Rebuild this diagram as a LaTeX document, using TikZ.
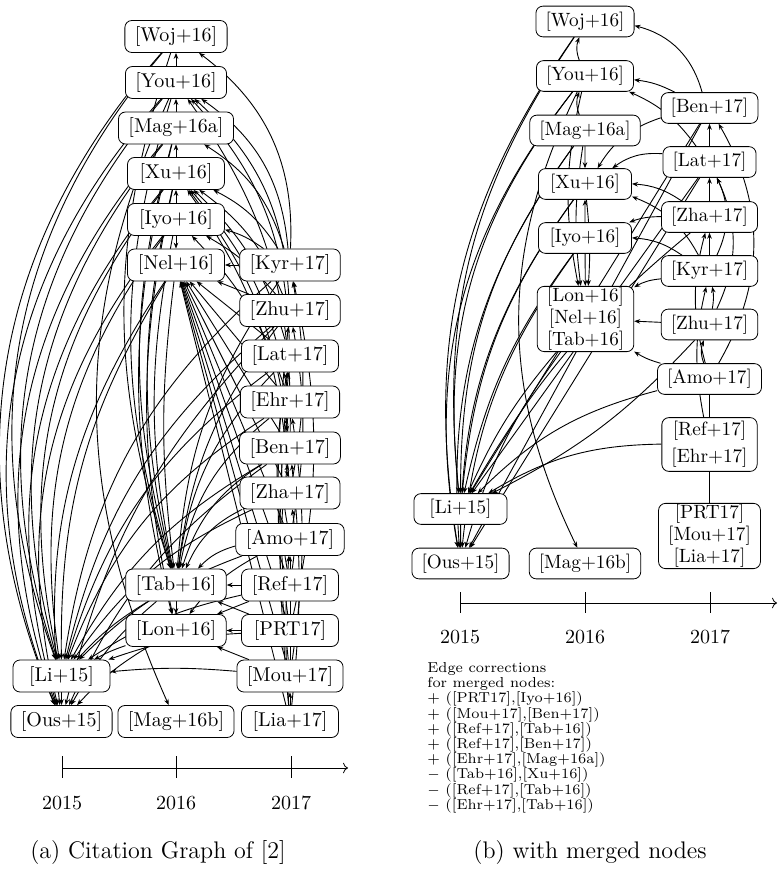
\documentclass[tikz,border=0pt]{standalone}
\usetikzlibrary{arrows.meta,backgrounds}

\tikzset{
  paper/.style={draw, rounded corners=3.5pt, fill=white, inner xsep=5pt, inner ysep=3pt, minimum width=48.5pt},
  mpaper/.style={paper, scale=0.96},
  mgroup/.style={mpaper, align=center, inner ysep=0.5pt, font=\fontsize{10}{11.5}\selectfont},
  cit/.style={-{Stealth[length=3pt,width=2.3pt]}, line width=0.45pt},
  link/.style={line width=0.45pt},
}

\begin{document}
\begin{tikzpicture}[x=0.5pt,y=-0.5pt]
  \useasboundingbox (0,0) rectangle (778,870);

  % (a) citation graph
  \node[paper] (woj)  at (176,36.5)  {[Woj+16]};
  \node[paper] (you)  at (176,82.5)  {[You+16]};
  \node[paper] (maga) at (176,128)   {[Mag+16a]};
  \node[paper] (xu)   at (176,173.5) {[Xu+16]};
  \node[paper] (iyo)  at (176,219.5) {[Iyo+16]};
  \node[paper] (nel)  at (176,265)   {[Nel+16]};
  \node[paper] (tab)  at (176,585)   {[Tab+16]};
  \node[paper] (lon)  at (176,630.5) {[Lon+16]};
  \node[paper] (magb) at (176,721.5) {[Mag+16b]};
  \node[paper] (li)   at (61.5,676)  {[Li+15]};
  \node[paper] (ous)  at (61.5,721.5) {[Ous+15]};
  \node[paper] (kyr)  at (290,265)   {[Kyr+17]};
  \node[paper] (zhu)  at (290,310.5) {[Zhu+17]};
  \node[paper] (lat)  at (290,356)   {[Lat+17]};
  \node[paper] (ehr)  at (290,402)   {[Ehr+17]};
  \node[paper] (ben)  at (290,448)   {[Ben+17]};
  \node[paper] (zha)  at (290,493)   {[Zha+17]};
  \node[paper] (amo)  at (290,539.5) {[Amo+17]};
  \node[paper] (ref)  at (290,585)   {[Ref+17]};
  \node[paper] (prt)  at (290,630.5) {[PRT17]};
  \node[paper] (mou)  at (290,676)   {[Mou+17]};
  \node[paper] (lia)  at (290,721.5) {[Lia+17]};

  \begin{pgfonlayer}{background}
  \draw[cit] (woj) edge[bend right=32] (ous) edge[bend right=30] (li) edge[bend right=18] (tab);
  \draw[cit] (you) edge (woj) edge[bend right=32] (ous) edge[bend right=29] (li) edge[bend right=17] (tab) edge[bend right=24] (magb);
  \draw[cit] (maga) edge (you) edge[bend right=30] (ous) edge[bend right=27] (li) edge[bend right=15] (tab) edge[bend right=14] (lon);
  \draw[cit] (xu) edge (maga) edge[bend right=28] (ous) edge[bend right=25] (li) edge[bend right=13] (tab) edge[bend right=12] (lon);
  \draw[cit] (iyo) edge (xu) edge (nel) edge[bend right=26] (ous) edge[bend right=22] (li) edge[bend right=11] (tab);
  \draw[cit] (nel) edge[bend right=20] (ous) edge[bend right=16] (li) edge[bend right=7] (tab);
  \draw[cit] (tab) edge (lon) edge[bend right=10] (ous) edge[bend right=8] (li);
  \draw[cit] (lon) edge[bend right=8] (ous) edge[bend right=5] (li);
  \draw[cit] (li) edge (ous);
  \draw[cit] (kyr) edge (nel) edge[bend right=10] (iyo) edge[bend right=15] (xu) edge[bend right=20] (maga) edge[bend right=25] (you) edge[bend right=28] (woj) edge[bend right=15] (tab) edge[bend right=20] (li);
  \draw[cit] (zhu) edge (nel) edge[bend right=10] (iyo) edge[bend right=15] (xu) edge[bend right=22] (you) edge[bend right=15] (tab) edge[bend right=18] (li) edge[bend right=15] (ous);
  \draw[cit] (lat) edge (nel) edge[bend right=15] (xu) edge[bend right=20] (you) edge[bend right=18] (tab) edge[bend right=18] (li) edge[bend right=8] (ben);
  \draw[cit] (ehr) edge (nel) edge[bend right=12] (iyo) edge[bend right=15] (xu) edge[bend right=20] (tab) edge[bend right=18] (li) edge[bend right=8] (zha);
  \draw[cit] (ben) edge (nel) edge[bend right=18] (you) edge[bend right=15] (xu) edge[bend right=20] (tab) edge[bend right=15] (li) edge[bend right=15] (ous);
  \draw[cit] (zha) edge (nel) edge[bend right=15] (xu) edge[bend right=20] (tab) edge[bend right=15] (li) edge[bend right=10] (kyr);
  \draw[cit] (amo) edge (nel) edge[bend right=15] (tab) edge[bend right=12] (lon) edge[bend right=12] (li) edge[bend left=10] (ehr) edge[bend right=10] (zhu);
  \draw[cit] (ref) edge (nel) edge (tab) edge (lon) edge[bend right=10] (li) edge[bend left=10] (lat) edge[bend right=8] (zha);
  \draw[cit] (prt) edge (nel) edge (tab) edge (lon) edge[bend right=8] (li) edge[bend right=12] (kyr) edge[bend left=8] (ben);
  \draw[cit] (mou) edge (nel) edge (lon) edge[bend right=5] (li) edge[bend left=6] (zhu) edge[bend right=8] (ehr) edge (amo);
  \draw[cit] (lia) edge (nel) edge[bend left=5] (lat) edge[bend right=6] (ben) edge (mou) edge[bend left=4] (amo);
  \end{pgfonlayer}

  \coordinate (ta15) at (62,768);
  \coordinate (ta16) at (176,768);
  \coordinate (ta17) at (291,768);
  \coordinate (taend) at (348,768);
  \draw[->] (ta15) -- (taend);
  \draw (ta15) ++(0,-12) -- ++(0,22);
  \draw (ta16) ++(0,-12) -- ++(0,22);
  \draw (ta17) ++(0,-12) -- ++(0,22);
  \node (ya15) at (62,803) {2015};
  \node (ya16) at (176,803) {2016};
  \node (ya17) at (291,803) {2017};
  \node (capa) at (158,853) {\large (a) Citation Graph of [2]};

  % (b) with merged nodes
  \node[mpaper] (mwoj)  at (585,21.5)  {[Woj+16]};
  \node[mpaper] (myou)  at (585,76)    {[You+16]};
  \node[mpaper] (mmaga) at (585,130.5) {[Mag+16a]};
  \node[mpaper] (mxu)   at (585,184)   {[Xu+16]};
  \node[mpaper] (miyo)  at (585,238)   {[Iyo+16]};
  \node[mgroup] (mlnt)  at (585.5,319) {[Lon+16]\\{}[Nel+16]\\{}[Tab+16]};
  \node[mpaper] (mli)   at (460.5,509) {[Li+15]};
  \node[mpaper] (mous)  at (460.5,563.5) {[Ous+15]};
  \node[mpaper] (mmagb) at (585,563.5) {[Mag+16b]};
  \node[mpaper] (mben)  at (709.5,108) {[Ben+17]};
  \node[mpaper] (mlat)  at (709.5,162) {[Lat+17]};
  \node[mpaper] (mzha)  at (709.5,217) {[Zha+17]};
  \node[mpaper] (mkyr)  at (709.5,271) {[Kyr+17]};
  \node[mpaper] (mzhu)  at (709.5,324.5) {[Zhu+17]};
  \node[mpaper] (mamo)  at (709.5,379) {[Amo+17]};
  \node[mpaper, align=center, inner ysep=2pt] (mre) at (709.5,444.5) {[Ref+17]\\[2pt]{}[Ehr+17]};
  \node[mgroup] (mpml)  at (709.5,536) {[PRT17]\\{}[Mou+17]\\{}[Lia+17]};

  \begin{pgfonlayer}{background}
  \draw[cit] (mwoj) edge[bend right=20] (mli) edge[bend right=22] (mous);
  \draw[cit] (myou) edge[bend left=20] (mwoj) edge[bend right=22] (mli) edge[bend right=24] (mous) edge[bend right=12] (mlnt) edge[bend right=26] (mmagb);
  \draw[cit] (mmaga) edge[bend left=20] (myou) edge (mxu) edge[bend right=18] (mli) edge[bend right=20] (mous) edge[bend right=8] (mlnt);
  \draw[cit] (mxu) edge[bend right=15] (mli) edge[bend right=18] (mous) edge[bend left=5] (mlnt);
  \draw[cit] (miyo) edge (mxu) edge[bend right=12] (mli) edge[bend right=15] (mous) edge (mlnt);
  \draw[cit] (mlnt) edge[bend right=8] (mli) edge[bend right=10] (mous);
  \draw[cit] (mli) edge (mous);
  \draw[cit] (mben) edge[bend right=30] (mwoj) edge[bend right=10] (myou) edge[bend right=20] (mxu) edge (mli) edge (mous);
  \draw[cit] (mlat) edge (mben) edge[bend right=15] (myou) edge[bend right=20] (mxu) edge (mli) edge (mous);
  \draw[cit] (mzha) edge (mlat) edge[bend right=15] (mxu) edge[bend right=10] (miyo) edge[bend right=10] (mli);
  \draw[cit] (mkyr) edge (mzha) edge[bend right=15] (miyo) edge[bend right=20] (mxu) edge[bend right=12] (mlnt) edge[bend right=25] (mlat);
  \draw[cit] (mzhu) edge (mlnt) edge[bend right=10] (mkyr) edge[bend right=25] (mlat) edge[bend left=10] (mli);
  \draw[cit] (mamo) edge[bend left=8] (mlnt) edge[bend right=15] (mli) edge[bend right=30] (mben) edge[bend left=20] (mzhu) edge[bend left=15] (mzha);
  \draw[cit] (mre) edge[bend right=15] (mli) edge[bend left=12] (mkyr);
  \draw[link] (mre) -- (mamo);
  \draw[link] (mpml) -- (mre);
  \end{pgfonlayer}

  \coordinate (tb15) at (460,603);
  \coordinate (tb16) at (585,603);
  \coordinate (tb17) at (710,603);
  \coordinate (tbend) at (777,603);
  \draw[->] (tb15) -- (tbend);
  \draw (tb15) ++(0,-11) -- ++(0,21);
  \draw (tb16) ++(0,-11) -- ++(0,21);
  \draw (tb17) ++(0,-11) -- ++(0,21);
  \node (yb15) at (460,637) {2015};
  \node (yb16) at (585,637) {2016};
  \node (yb17) at (710,637) {2017};
  \node[anchor=north west, align=left, inner sep=0pt, font={\fontsize{7.2}{7.6}\selectfont\lineskiplimit-10pt\relax}] (corr) at (427,662)
    {Edge corrections\\for merged nodes:\\+ ([PRT17],[Iyo+16])\\+ ([Mou+17],[Ben+17])\\+ ([Ref+17],[Tab+16])\\+ ([Ref+17],[Ben+17])\\+ ([Ehr+17],[Mag+16a])\\$-$ ([Tab+16],[Xu+16])\\$-$ ([Ref+17],[Tab+16])\\$-$ ([Ehr+17],[Tab+16])};
  \node (capb) at (590,853) {\large (b) with merged nodes};
\end{tikzpicture}
\end{document}
